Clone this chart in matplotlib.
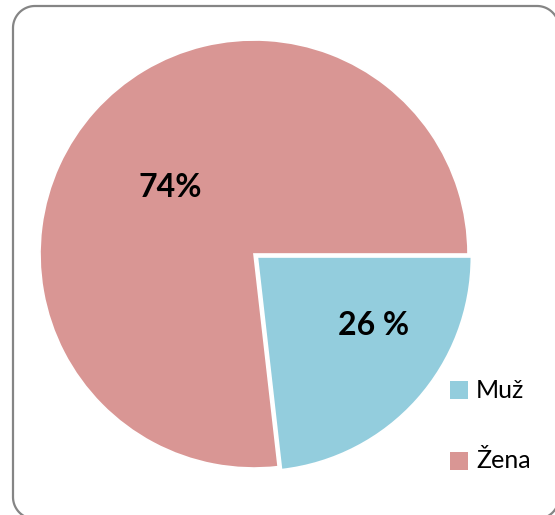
import matplotlib
matplotlib.use("Agg")
import matplotlib.pyplot as plt
import numpy as np
from matplotlib.patches import Polygon, Rectangle

categories = ["Muž", "Žena"]
values = [23.2, 76.8]
value_labels = ["26 %", "74%"]
colors = ["#93CDDD", "#D99694"]

plt.rcParams['font.family'] = ['Lato', 'DejaVu Sans']

W, H = 555, 515
fig = plt.figure(figsize=(W / 100, H / 100), dpi=100)
fig.patch.set_facecolor("white")


def rounded_rect(x0, y0, x1, y1, rad, n=30):
    pts = []
    corners = [(x1 - rad, y1 - rad, 0), (x0 + rad, y1 - rad, 90),
               (x0 + rad, y0 + rad, 180), (x1 - rad, y0 + rad, 270)]
    for cxx, cyy, a0 in corners:
        t = np.radians(np.linspace(a0, a0 + 90, n))
        pts.extend(zip(cxx + rad * np.cos(t), cyy + rad * np.sin(t)))
    return np.array(pts)


# frame in pixel units (origin bottom-left)
frame_pts = rounded_rect(13, H - 519, 559, H - 6, 22)
frame = Polygon(frame_pts / 100.0, closed=True, fill=False,
                transform=fig.dpi_scale_trans, edgecolor="#858585",
                linewidth=1.6, clip_on=False)
fig.patches.append(frame)

cx, cy, r = 254, 254, 214
lim = 1.1
ax = fig.add_axes([(cx - lim * r) / W, (H - cy - lim * r) / H,
                   2 * lim * r / W, 2 * lim * r / H])
wedges, _ = ax.pie(values, colors=colors, startangle=0, counterclock=False,
                   explode=[0.021, 0.0], radius=1.0,
                   wedgeprops=dict(edgecolor="white", linewidth=1.2))
ax.set_xlim(-lim, lim)
ax.set_ylim(-lim, lim)
ax.set_aspect("equal")
ax.axis("off")

# value labels
label_pos = [(0.557, -0.332), (-0.393, 0.313)]
for (lx, ly), txt in zip(label_pos, value_labels):
    ax.text(lx, ly, txt, ha="center", va="center", fontsize=23,
            fontweight="bold", color="black")

# legend
leg_y = [390, 461]
for yy, cat, col in zip(leg_y, categories, colors):
    fig.patches.append(Rectangle((450 / W, (H - yy - 9) / H), 18 / W, 18 / H,
                                 transform=fig.transFigure, facecolor=col,
                                 edgecolor="none"))
    fig.text(476 / W, (H - yy) / H, cat, ha="left", va="center",
             fontsize=18, color="black")

fig.savefig("out.png", dpi=100)
